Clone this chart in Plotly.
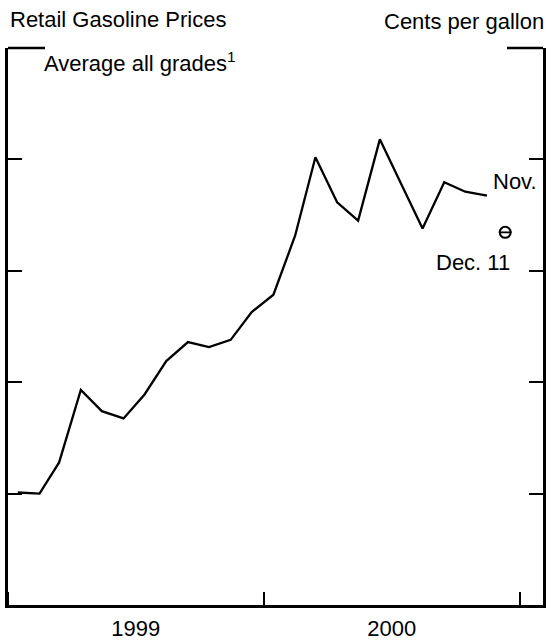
import plotly.graph_objects as go

months = ["1999-01-15", "1999-02-15", "1999-03-15", "1999-04-15", "1999-05-15", "1999-06-15",
          "1999-07-15", "1999-08-15", "1999-09-15", "1999-10-15", "1999-11-15", "1999-12-15",
          "2000-01-15", "2000-02-15", "2000-03-15", "2000-04-15", "2000-05-15", "2000-06-15",
          "2000-07-15", "2000-08-15", "2000-09-15", "2000-10-15", "2000-11-15"]
price = [100.2, 100.0, 105.6, 118.6, 114.8, 113.5, 117.8, 123.8, 127.2, 126.3, 127.6, 132.6,
         135.7, 146.3, 160.4, 152.3, 149.0, 163.6, 155.7, 147.6, 155.9, 154.2, 153.5]
weekly_date = ["2000-12-11"]
weekly_price = [146.9]
y_ticks = [100, 120, 140, 160]

FONT = "Liberation Sans, Arial, sans-serif"
FS = 22
W, H = 552, 644
L, R, T, B = 8, 9, 48, 39

fig = go.Figure()
fig.add_trace(go.Scatter(x=months, y=price, mode="lines",
                         line=dict(color="black", width=2.3), showlegend=False, hoverinfo="skip"))
fig.add_trace(go.Scatter(x=weekly_date, y=weekly_price, mode="markers",
                         marker=dict(symbol="circle-open", size=11, color="black",
                                     line=dict(width=2, color="black")),
                         showlegend=False, hoverinfo="skip"))
fig.add_trace(go.Scatter(x=weekly_date, y=weekly_price, mode="markers",
                         marker=dict(symbol="line-ew-open", size=9, color="black",
                                     line=dict(width=1.8, color="black")),
                         showlegend=False, hoverinfo="skip"))

fig.update_xaxes(type="date", range=["1999-01-01", "2001-02-03"],
                 showline=True, linecolor="black", linewidth=2.5, mirror=False,
                 tick0="1999-01-01", dtick="M12", ticklabelmode="period", tickformat="%Y",
                 ticks="inside", ticklen=13, tickwidth=2, tickcolor="black",
                 ticklabelstandoff=2, automargin=False,
                 showgrid=False, zeroline=False,
                 tickfont=dict(family=FONT, size=FS, color="black"))
fig.update_yaxes(range=[80, 180], tickvals=y_ticks, showticklabels=False,
                 showline=True, linecolor="black", linewidth=2.5, mirror="ticks",
                 ticks="inside", ticklen=14, tickwidth=2, tickcolor="black",
                 automargin=False,
                 showgrid=False, zeroline=False)

def px_x(p):
    return (p - L) / (W - L - R)

def px_y(p):
    return (H - B - p) / (H - T - B)

# partial top frame segments
for x0, x1 in [(8, 45), (507, 543)]:
    fig.add_shape(type="line", xref="paper", yref="paper",
                  x0=px_x(x0), x1=px_x(x1), y0=1, y1=1,
                  line=dict(color="black", width=2.5))

fig.add_annotation(text="Average all grades<sup>1</sup>", xref="paper", yref="paper",
                   x=px_x(42), y=px_y(62), xanchor="left", yanchor="middle", showarrow=False,
                   font=dict(family=FONT, size=FS, color="black"))
fig.add_annotation(text="Nov.", xref="paper", yref="paper",
                   x=px_x(491), y=px_y(181), xanchor="left", yanchor="middle", showarrow=False,
                   font=dict(family=FONT, size=FS, color="black"))
fig.add_annotation(text="Dec. 11", xref="paper", yref="paper",
                   x=px_x(512), y=px_y(262), xanchor="right", yanchor="middle", showarrow=False,
                   font=dict(family=FONT, size=FS, color="black"))
fig.add_annotation(text="Cents per gallon", xref="paper", yref="paper",
                   x=px_x(546), y=px_y(22), xanchor="right", yanchor="middle", showarrow=False,
                   font=dict(family=FONT, size=FS, color="black"))

fig.update_layout(
    width=W, height=H,
    margin=dict(l=L, r=R, t=T, b=B),
    paper_bgcolor="white", plot_bgcolor="white",
    title=dict(text="Retail Gasoline Prices", x=10 / W, xanchor="left",
               y=1 - 19 / H, yanchor="middle", yref="container",
               font=dict(family=FONT, size=FS, color="black")),
    showlegend=False,
)

fig.write_html("out.html", config={"displayModeBar": False},
               post_script="document.body.style.margin='0';")
